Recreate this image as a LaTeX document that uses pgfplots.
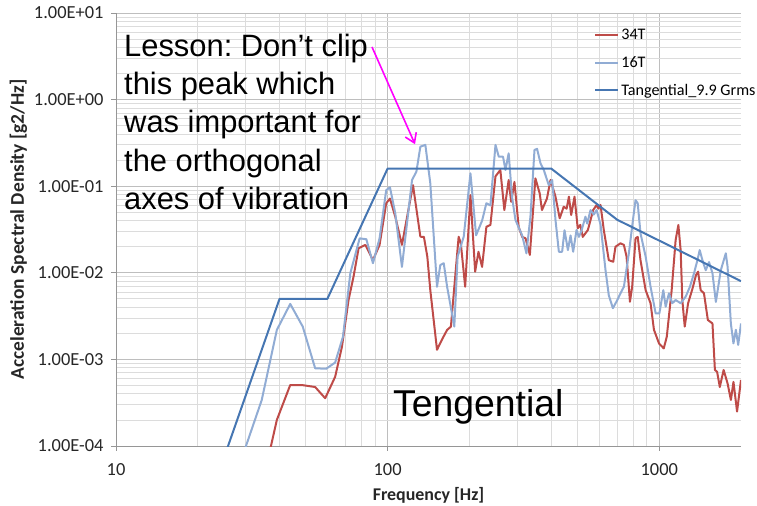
\documentclass[border=0pt]{standalone}
\usepackage{fontspec}
\setmainfont{Liberation Sans}
\newfontfamily\carlito{Carlito}
\usepackage{pgfplots}
\pgfplotsset{compat=1.18}
\usetikzlibrary{arrows.meta}
\definecolor{red34}{RGB}{190,75,72}
\definecolor{blue16}{RGB}{145,172,212}
\definecolor{tang}{RGB}{70,118,178}
\definecolor{gmaj}{RGB}{190,190,190}
\definecolor{gmin}{RGB}{220,220,220}
\definecolor{axl}{RGB}{150,150,150}
\definecolor{mag}{RGB}{255,0,255}
\frenchspacing
\begin{document}
\begin{tikzpicture}
\begin{axis}[
  scale only axis, width=625bp, height=433bp,
  xmode=log, ymode=log,
  xmin=10, xmax=2000, ymin=1e-4, ymax=10,
  axis x line*=bottom, axis y line*=left,
  axis line style={draw=axl, line width=0.8bp},
  every axis plot/.append style={line join=round},
  xtick={10,100,1000}, xticklabels={10,100,1000},
  ytick={1e-4,1e-3,1e-2,1e-1,1,10},
  yticklabels={1.00E-04,1.00E-03,1.00E-02,1.00E-01,1.00E+00,1.00E+01},
  tick align=outside, major tick length=5bp, minor tick length=0pt,
  tick style={draw=axl, line width=0.8bp},
  grid=both,
  major grid style={draw=gmaj, line width=0.8bp},
  minor grid style={draw=gmin, line width=0.8bp},
  ticklabel style={font=\carlito\fontsize{18.5}{20}\selectfont, text=black!85},
  xticklabel style={yshift=-9bp},
  yticklabel style={xshift=-4bp},
  xlabel={\bfseries Frequency [Hz]},
  ylabel={\bfseries Acceleration Spectral Density [g2/Hz]},
  xlabel style={font=\carlito\fontsize{18}{20}\selectfont, text=black!85, yshift=-4.5bp},
  ylabel style={font=\carlito\fontsize{19.5}{20}\selectfont, text=black!85},
  legend style={at={(rel axis cs:0.765,0.967)}, anchor=north west, draw=none, fill=none,
    font=\carlito\fontsize{16.2}{18}\selectfont, row sep=11bp, inner sep=0pt},
  legend cell align=left,
  legend image code/.code={\draw[#1, line width=2bp] (0bp,0bp) -- (23bp,0bp);},
]
\addplot[red34, line width=2bp] coordinates {
(36,7e-5)(37.2,1.0e-4)(39.1,2.0e-4)(43.8,5.06e-4)(48.3,5.06e-4)(54.1,4.8e-4)(58.9,3.56e-4)
(64.1,6.3e-4)(67.9,1.4e-3)(71.8,4.85e-3)(74.9,9.0e-3)(78.2,0.0192)(82.8,0.021)(88.3,0.014)
(93.4,0.021)(98.8,0.0636)(102,0.072)(106.7,0.0445)(112.9,0.021)(124,0.103)(132,0.0261)
(136,0.026)(140,0.0154)(143.6,0.0063)(152,0.00129)(158.6,0.0017)(165.6,0.00219)(171,0.00239)
(182.6,0.0261)(186,0.0219)(193,0.0069)(201.8,0.079)(210,0.0103)(216,0.0175)(222.7,0.0117)
(231,0.034)(239,0.0357)(249.5,0.13)(260,0.154)(269,0.053)(279,0.118)(285,0.066)(293,0.112)
(303.7,0.034)(312.8,0.026)(322,0.025)(333.9,0.0161)(350,0.123)(363,0.0828)(370,0.053)
(386,0.072)(398,0.118)(415,0.0757)(430,0.0426)(445,0.058)(456,0.055)(465,0.0757)(474,0.0465)
(487.6,0.0757)(501,0.0327)(512,0.0357)(523,0.026)(546,0.0312)(558.6,0.0407)(571,0.053)
(588,0.0607)(597,0.055)(608,0.0607)(625,0.0312)(652,0.014)(677,0.0134)(690,0.02)(720,0.0219)
(741,0.021)(758,0.0154)(780,0.00463)(795,0.0069)(818,0.025)(833,0.026)(853,0.014)(891,0.0063)
(929,0.00445)(956,0.0022)(998,0.00153)(1039,0.00134)(1066,0.00183)(1111,0.0063)(1149,0.0239)
(1176,0.0357)(1199,0.0183)(1216,0.00485)(1241,0.00239)(1277,0.00445)(1326,0.0066)(1365,0.0094)
(1390,0.0103)(1421,0.0063)(1461,0.0058)(1510,0.00285)(1570,0.0026)(1603,7.55e-4)(1633,7.2e-4)
(1671,4.8e-4)(1726,7.55e-4)(1784,5.3e-4)(1836,3.4e-4)(1876,5.5e-4)(1934,2.5e-4)(2000,5.8e-4)
};
\addlegendentry{34T}
\addplot[blue16, line width=2bp] coordinates {
(29.5,8e-5)(30.1,1.0e-4)(34.4,3.4e-4)(39.1,2.19e-3)(43.8,4.37e-3)(48.7,2.39e-3)(54.1,7.9e-4)
(59.4,7.8e-4)(64.1,9.2e-4)(68.5,1.83e-3)(72.9,9.9e-3)(78.9,0.025)(83.5,0.0244)(88.3,0.0129)
(93.4,0.025)(98.8,0.090)(102,0.097)(106.7,0.0487)(112.9,0.0117)(123,0.118)(127.6,0.147)
(132,0.286)(137.7,0.30)(143.6,0.108)(152,0.0069)(156.3,0.0123)(160.9,0.0129)(165.6,0.0069)
(176,0.00239)(181,0.0154)(190.6,0.0261)(201.8,0.141)(211.7,0.0271)(222.7,0.040)(231,0.0636)
(239,0.06)(249.5,0.30)(256.6,0.219)(266,0.219)(271.5,0.154)(279,0.24)(287,0.0757)(295.6,0.0407)
(312.8,0.0271)(324.3,0.0168)(335.6,0.0445)(347.3,0.262)(355,0.27)(365.5,0.184)(375.8,0.154)
(392,0.103)(403.5,0.118)(415,0.0407)(427,0.0175)(439,0.0175)(448,0.031)(461,0.0183)(471.5,0.027)
(482,0.0175)(496,0.0312)(506,0.026)(516,0.0299)(535,0.0445)(543,0.037)(558.6,0.053)(574,0.047)
(588,0.053)(608,0.036)(634,0.0108)(652,0.0055)(675,0.0039)(701,0.00485)(720,0.0058)(741,0.0069)
(773,0.0168)(803,0.0445)(818,0.069)(833,0.0636)(853,0.0286)(891,0.0154)(929,0.0069)(970,0.0034)
(1001,0.0034)(1035,0.0063)(1056,0.00406)(1086,0.0058)(1117,0.00445)(1149,0.00485)(1199,0.00445)
(1251,0.0053)(1297,0.0069)(1343,0.0099)(1382,0.014)(1409,0.0183)(1442,0.014)(1483,0.0107)
(1525,0.0133)(1570,0.0099)(1616,0.0046)(1685,0.0107)(1758,0.0168)(1785,0.0117)(1835,0.0026)
(1876,0.00153)(1915,0.0022)(1953,0.00147)(2000,0.0026)
};
\addlegendentry{16T}
\addplot[tang, line width=2bp] coordinates {
(20,1e-5)(40,0.005)(60,0.005)(100,0.16)(400,0.16)(700,0.041)(2000,0.008)
};
\addlegendentry{Tangential\_9.9 Grms}
\node[anchor=north west, inner sep=0pt, align=left,
  font=\fontsize{31}{38.3}\selectfont] at (rel axis cs:0.0128,0.9515)
  {Lesson: Don’t clip\\this peak which\\was important for\\the orthogonal\\axes of vibration};
\node[anchor=base west, inner sep=0pt, font=\fontsize{37.5}{40}\selectfont]
  at (rel axis cs:0.443,0.0677) {Tengential};
\draw[mag, line width=1.6bp, -{Straight Barb[length=9bp,width=12bp]}]
  (rel axis cs:0.4096,0.9215) -- (rel axis cs:0.4784,0.697);
\end{axis}
\pgfresetboundingbox
\path (current axis.south west) ++(-116bp,-60bp) coordinate (bl);
\path (current axis.north east) ++(16bp,13bp) coordinate (tr);
\path (bl) rectangle (tr);
\end{tikzpicture}
\end{document}
